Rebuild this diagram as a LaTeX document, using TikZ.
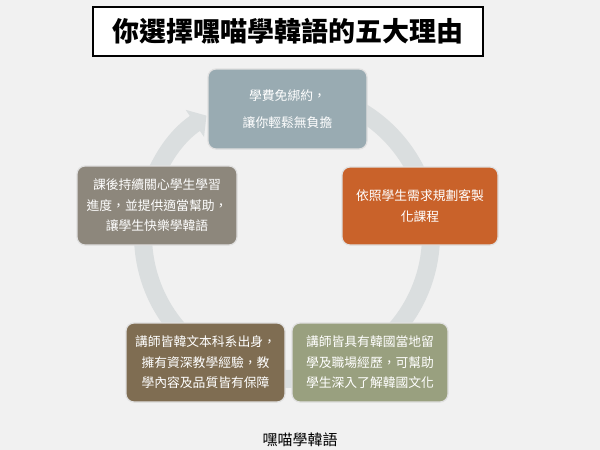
\documentclass[tikz,border=0pt]{standalone}
\usepackage{fontspec}
\newfontfamily\cjk[Script=CJK,Language=Chinese Traditional]{Noto Sans CJK TC}
\usetikzlibrary{calc,arrows.meta}
\definecolor{bgcol}{HTML}{F1F1F1}
\definecolor{ringcol}{HTML}{DADEDF}
\definecolor{feecol}{HTML}{99ABB2}
\definecolor{customcol}{HTML}{C9622A}
\definecolor{carecol}{HTML}{8D877C}
\definecolor{teachcol}{HTML}{7F6D52}
\definecolor{abroadcol}{HTML}{99A07F}

\begin{document}
\begin{tikzpicture}[x=1pt,y=-1pt,
		reason/.style={rounded corners=8pt, draw=white!88!black, line width=1.2pt,
			minimum height=79pt, align=center, text=white, inner sep=2pt,
			font=\cjk\fontsize{12.8}{20.5}\selectfont}]
			\fill[bgcol] (0,0) rectangle (600,450);
			\useasboundingbox (0,0) rectangle (600,450);
			
			\coordinate(M) at (287,235);
			\draw[ringcol, line width=18pt, -{Triangle[width=32pt,length=14pt]}]
				($(M)+(-90:144)$) arc[start angle=-90, end angle=236, radius=144];
			
			\node[draw=black, line width=1.5pt, fill=white, minimum width=390pt, minimum height=49pt,
				font=\cjk\bfseries\fontsize{27}{30}\selectfont] (title) at (288,31.5) {你選擇嘿喵學韓語的五大理由};
			
			\node[reason, fill=feecol, minimum width=159pt, minimum height=80pt] (fee) at (287.5,109)
				{學費免綁約，\\[7pt]讓你輕鬆無負擔};
			\node[reason, fill=customcol, minimum width=156pt, minimum height=78pt] (custom) at (420,206)
				{依照學生需求規劃客製\\化課程};
			\node[reason, fill=carecol, minimum width=160pt] (care) at (157,205.5)
				{課後持續關心學生學習\\進度，並提供適當幫助，\\讓學生快樂學韓語};
			\node[reason, fill=teachcol, minimum width=159pt] (teacher) at (205.5,362.5)
				{講師皆韓文本科系出身，\\擁有資深教學經驗，教\\學內容及品質皆有保障};
			\node[reason, fill=abroadcol, minimum width=156pt] (abroad) at (370,362.5)
				{講師皆具有韓國當地留\\學及職場經歷，可幫助\\學生深入了解韓國文化};
			
			\node[font=\cjk\fontsize{15}{18}\selectfont] (brand) at (300,440) {嘿喵學韓語};
		\end{tikzpicture}
\end{document}
